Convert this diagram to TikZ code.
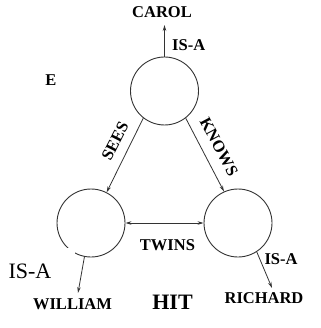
\documentclass[tikz,border=0pt]{standalone}
\usepackage{fontspec}
\setmainfont{Liberation Serif}
\usetikzlibrary{arrows.meta}
\begin{document}
\begin{tikzpicture}[x=1pt,y=-1pt,
  concept/.style={circle,draw=black!80,line width=0.9pt,minimum size=68pt,inner sep=0pt},
  lbl/.style={font=\bfseries\fontsize{16.5}{16.5}\selectfont,inner sep=0pt},
  rel/.style={draw=black!80,line width=0.8pt,-{Stealth[length=6pt,width=3.5pt]}},
  birel/.style={draw=black!80,line width=0.8pt,{Stealth[length=6pt,width=3.5pt]}-{Stealth[length=6pt,width=3.5pt]}}]
\useasboundingbox (0,0) rectangle (320,328);
\node[concept] (top) at (164.5,91) {};
\node[concept] (left) at (91,223) {};
\node[concept] (right) at (238,223) {};
\node[lbl] (carol) at (162,12.5) {CAROL};
\coordinate (carolp) at (164.5,25);
\draw[rel] (top.north) -- (carolp);
\node[lbl,anchor=west] (isatop) at (172,45) {IS-A};
\node[lbl] (e) at (51,80) {E};
\draw[rel] (top.-128) -- (left.63);
\node[lbl,rotate=63] (sees) at (115,141) {SEES};
\draw[rel] (top.-52) -- (right.114);
\node[lbl,rotate=-62] (knows) at (219,147) {KNOWS};
\draw[birel] (left.east) -- (right.west);
\node[lbl] (twins) at (167.5,245) {TWINS};
\coordinate (williamp) at (78,293);
\draw[rel] (left.-101) -- (williamp);
\coordinate (richardp) at (272,288);
\draw[rel] (right.-57) -- (richardp);
\node[lbl] (isar) at (281,259) {IS-A};
\fill[white] (0,248) rectangle (75,291);
\node[inner sep=0pt,font=\fontsize{22}{22}\selectfont] (isal) at (30,271.5) {IS-A};
\node[lbl] (william) at (72.5,304) {WILLIAM};
\node[inner sep=0pt,font=\bfseries\fontsize{22}{22}\selectfont] (hit) at (172.5,302.5) {HIT};
\node[lbl] (richard) at (264,298.5) {RICHARD};
\end{tikzpicture}
\end{document}
